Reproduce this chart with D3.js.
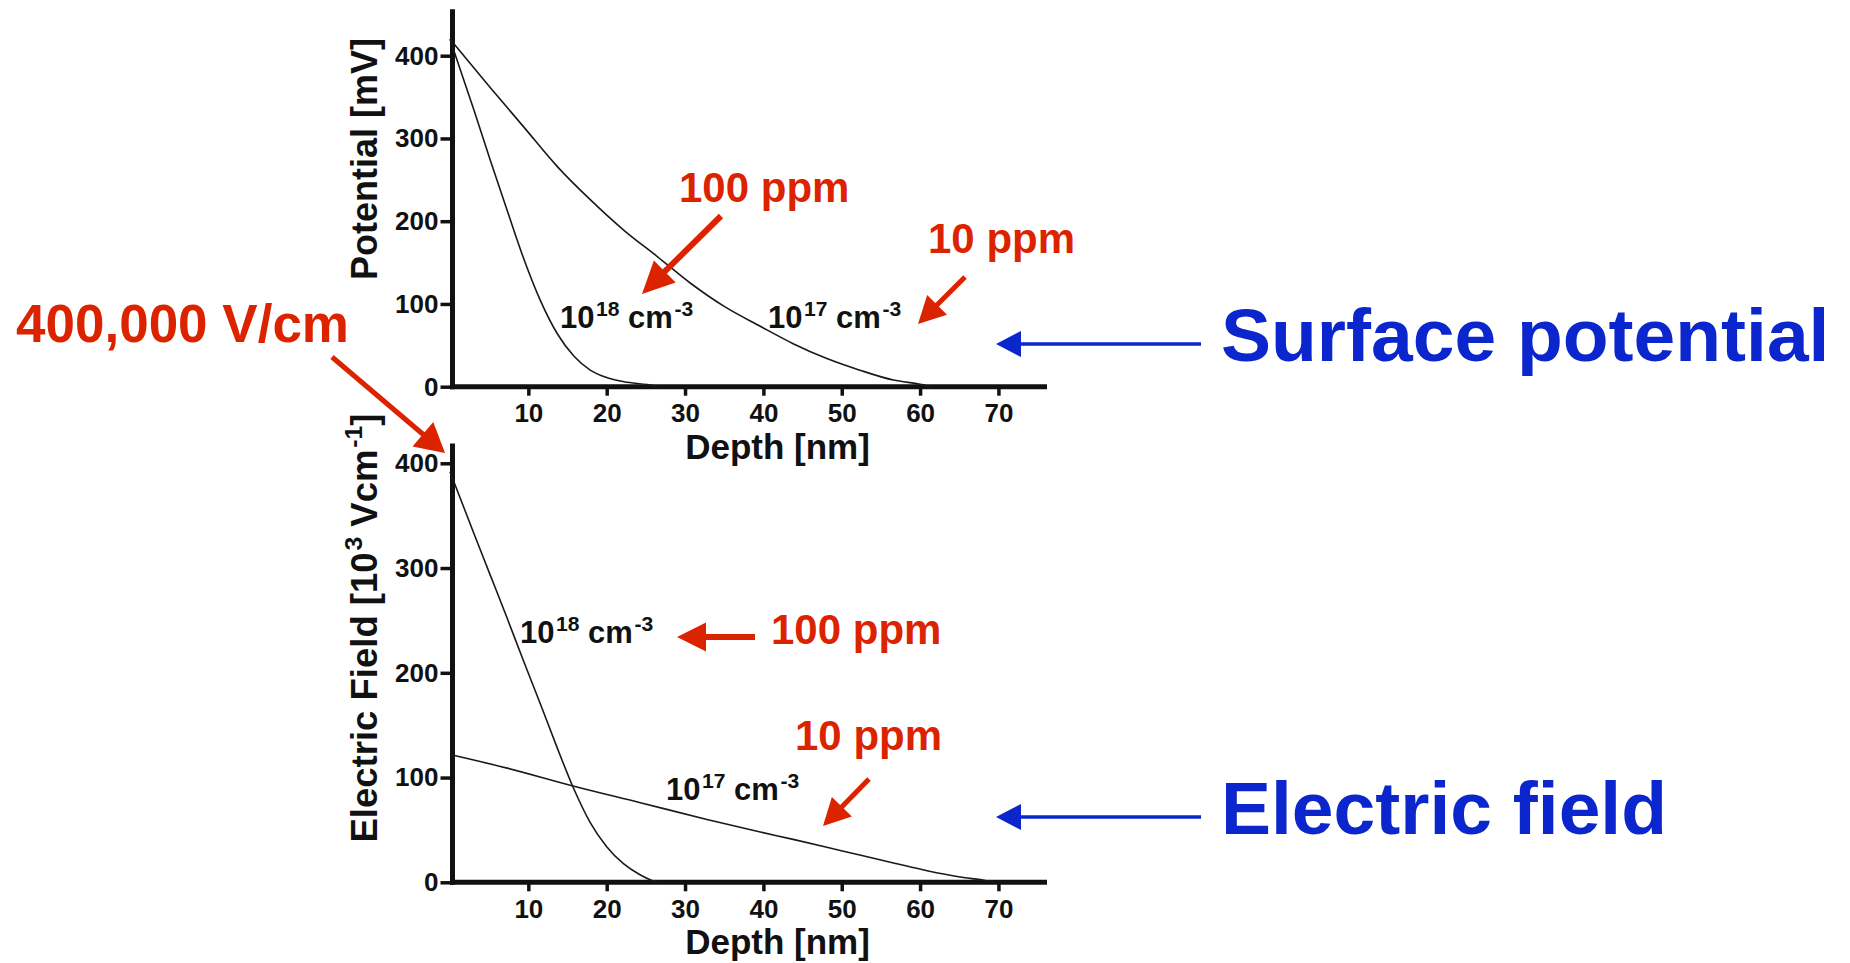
<!DOCTYPE html>
<html>
<head>
<meta charset="utf-8">
<script src="https://cdn.jsdelivr.net/npm/d3@7"></script>
<style>
  html, body { margin: 0; padding: 0; background: #ffffff; }
  svg { display: block; }
  text { font-family: "Liberation Sans", Arial, Helvetica, sans-serif; font-weight: bold; }
</style>
</head>
<body>
<svg id="chart" width="1850" height="963"></svg>
<script>
// ---------------- DATA ----------------
const depthTicks = [10, 20, 30, 40, 50, 60, 70];
const potentialTicks = [0, 100, 200, 300, 400];
const fieldTicks = [0, 100, 200, 300, 400];

// Surface potential [mV] vs depth [nm]
const potential1e18 = [[0,420],[3.0,336],[5.1,275],[7.3,213],[9.4,155],[11.5,105],[13.7,64],[15.8,37],[17.9,20],[20.0,11],[22.2,6],[25.2,2.5],[26.5,0.5]];
const potential1e17 = [[0,420],[5.1,362],[9.4,314],[13.7,266],[17.9,226],[22.2,189],[26.5,157],[30.7,125],[35.0,97],[39.6,73],[43.8,52],[48.1,34],[52.3,20],[56.6,8],[60.0,3],[61.3,0.5]];

// Electric field [10^3 V/cm] vs depth [nm]
const field1e18 = [[0,392],[3.0,334],[5.1,294],[7.3,252],[9.4,211],[11.5,171],[13.6,130],[15.7,91],[17.9,57],[20.0,34],[22.1,18],[24.3,7],[25.7,2],[26.5,0]];
const field1e17 = [[0,122],[7.3,109],[15.7,92],[24.3,76],[32.8,60],[39.6,48],[43.8,41],[48.1,33.5],[52.3,26],[56.6,18.5],[60.9,11],[65.1,5],[68.5,1.5],[69.5,0]];

const depthMax = 76.2, potentialMax = 456, fieldMax = 419;

const xLabel = "Depth [nm]";
const potentialLabel = "Potential [mV]";
const fieldLabelParts = [["Electric Field [10", false], ["3", true], [" Vcm", false], ["-1", true], ["]", false]];
const label1e18 = [["10", false], ["18", true], [" cm", false], ["-3", true]];
const label1e17 = [["10", false], ["17", true], [" cm", false], ["-3", true]];

const RED = "#dc2300", BLUE = "#0a26cc", INK = "#111";

// ---------------- DRAW ----------------
const svg = d3.select("#chart");

const x = d3.scaleLinear([0, depthMax], [450, 1047]);
const yTop = d3.scaleLinear([0, potentialMax], [386.7, 386.7 - potentialMax * 0.8275]);
const yBot = d3.scaleLinear([0, fieldMax], [882.3, 882.3 - fieldMax * 1.0475]);

function panel(y, ticksY, series) {
  const g = svg.append("g");
  const y0 = y(0);
  const ya = g.append("g").attr("transform", `translate(452.5,0)`)
    .call(d3.axisLeft(y).tickValues(ticksY).tickSize(12).tickPadding(2).tickSizeOuter(0));
  ya.select(".domain").remove();
  ya.selectAll(".tick line").attr("stroke", INK).attr("stroke-width", 3.5);
  ya.selectAll(".tick text").attr("fill", INK).style("font-size", "26px")
    .style("font-family", '"Liberation Sans", Arial, sans-serif').style("font-weight", "bold");
  const xa = g.append("g").attr("transform", `translate(0,${y0})`)
    .call(d3.axisBottom(x).tickValues(depthTicks).tickSize(9).tickPadding(8).tickSizeOuter(0));
  xa.select(".domain").remove();
  xa.selectAll(".tick line").attr("stroke", INK).attr("stroke-width", 3.5);
  xa.selectAll(".tick text").attr("fill", INK).style("font-size", "26px")
    .style("font-family", '"Liberation Sans", Arial, sans-serif').style("font-weight", "bold");
  g.append("line").attr("x1", 452.5).attr("x2", 452.5).attr("y1", y.range()[1]).attr("y2", y0 + 2.5)
    .attr("stroke", INK).attr("stroke-width", 5);
  g.append("line").attr("x1", 450).attr("x2", x.range()[1]).attr("y1", y0).attr("y2", y0)
    .attr("stroke", INK).attr("stroke-width", 5);
  const line = d3.line().x(d => x(d[0])).y(d => y(d[1])).curve(d3.curveMonotoneX);
  series.forEach(s => {
    g.append("path").attr("d", line(s)).attr("fill", "none")
      .attr("stroke", "#1a1a1a").attr("stroke-width", 1.6);
  });
  g.append("text").attr("x", 777.5).attr("y", y0 + 72).attr("text-anchor", "middle")
    .attr("fill", INK).style("font-size", "35px").text(xLabel);
  return g;
}

panel(yTop, potentialTicks, [potential1e18, potential1e17]);
panel(yBot, fieldTicks, [field1e18, field1e17]);

function richText(parent, xPos, yPos, parts, size, anchor, transform) {
  const t = parent.append("text").attr("fill", INK).style("font-size", size + "px")
    .attr("text-anchor", anchor || "start");
  if (transform) t.attr("transform", transform);
  else t.attr("x", xPos).attr("y", yPos);
  let up = false;
  parts.forEach(([str, sup]) => {
    const ts = t.append("tspan").text(str);
    if (sup) {
      ts.style("font-size", (size * 0.68) + "px").attr("dy", -size * 0.4).attr("dx", size * 0.05);
      up = true;
    } else if (up) {
      ts.attr("dy", size * 0.4);
      up = false;
    }
  });
  return t;
}

// Y axis labels (rotated)
svg.append("text").attr("transform", "translate(377,159) rotate(-90)").attr("text-anchor", "middle")
  .attr("fill", INK).style("font-size", "36px").text(potentialLabel);
richText(svg, 0, 0, fieldLabelParts, 36.5, "middle", "translate(377,628) rotate(-90)");

// Curve labels
richText(svg, 560, 328, label1e18, 31);
richText(svg, 768, 328, label1e17, 31);
richText(svg, 520, 643, label1e18, 31);
richText(svg, 666, 800, label1e17, 31);

// Arrows
function arrow(x1, y1, x2, y2, color, w, headLen, headW) {
  const dx = x2 - x1, dy = y2 - y1, L = Math.hypot(dx, dy);
  const ux = dx / L, uy = dy / L, px = -uy, py = ux;
  const bx = x2 - ux * headLen, by = y2 - uy * headLen;
  svg.append("line").attr("x1", x1).attr("y1", y1).attr("x2", bx + ux * 2).attr("y2", by + uy * 2)
    .attr("stroke", color).attr("stroke-width", w);
  svg.append("path")
    .attr("d", `M${x2},${y2}L${bx + px * headW / 2},${by + py * headW / 2}L${bx - px * headW / 2},${by - py * headW / 2}Z`)
    .attr("fill", color);
}

// Red annotations
const redTexts = [
  { t: "100 ppm", x: 679, y: 202, s: 42 },
  { t: "10 ppm", x: 928, y: 253, s: 42 },
  { t: "400,000 V/cm", x: 16, y: 342, s: 53 },
  { t: "100 ppm", x: 771, y: 644, s: 42 },
  { t: "10 ppm", x: 795, y: 750, s: 42 }
];
redTexts.forEach(d => svg.append("text").attr("x", d.x).attr("y", d.y).attr("fill", RED)
  .style("font-size", d.s + "px").text(d.t));

arrow(721, 216, 642, 294, RED, 6, 32, 31);
arrow(965, 277, 918, 324, RED, 5, 27, 28);
arrow(332, 357, 445, 453, RED, 5, 29, 32);
arrow(755, 637, 677, 637, RED, 6, 29, 29);
arrow(869, 779, 823, 826, RED, 5, 27, 28);

// Blue annotations
svg.append("text").attr("x", 1221).attr("y", 361).attr("fill", BLUE).style("font-size", "75px").text("Surface potential");
svg.append("text").attr("x", 1221).attr("y", 834).attr("fill", BLUE).style("font-size", "75px").text("Electric field");
arrow(1201, 344, 996, 344, BLUE, 3.5, 25, 26);
arrow(1201, 817, 996, 817, BLUE, 3.5, 25, 26);
</script>
</body>
</html>
